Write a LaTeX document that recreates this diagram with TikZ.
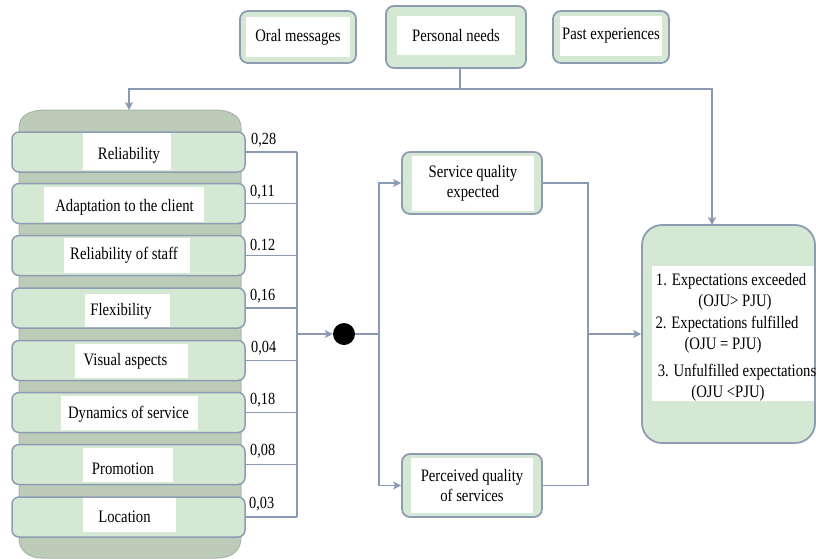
\documentclass[tikz,border=0pt]{standalone}
\usepackage{fontspec}
\setmainfont{Liberation Serif}[FakeStretch=0.84]
\usetikzlibrary{arrows.meta}
\definecolor{lgreen}{HTML}{D5E8D4}
\definecolor{drumc}{HTML}{BCCCB9}
\definecolor{drumedge}{HTML}{A9B8A6}
\definecolor{edgec}{HTML}{8E9CB3}
\definecolor{wirec}{HTML}{8A99B4}
\begin{document}
\begin{tikzpicture}[x=1pt,y=-1pt,
  font=\fontsize{17.5}{20}\selectfont,
  box/.style={draw=edgec, line width=1.8pt, fill=lgreen, rounded corners=8pt, inner sep=0pt},
  bar/.style={draw=edgec, line width=1.5pt, fill=lgreen, rounded corners=7pt, minimum width=233pt, minimum height=40pt, inner sep=0pt},
  wbox/.style={fill=white, inner sep=0pt, align=center},
  txt/.style={inner sep=0pt},
  wire/.style={draw=wirec, line width=1.4pt},
  arr/.style={wire, -{Stealth[length=8pt,width=8pt,inset=2pt]}},
  wlab/.style={anchor=west, inner sep=0pt, font=\fontsize{17}{18}\selectfont}]
\useasboundingbox (0,0) rectangle (816,558);

% drum body
\filldraw[fill=drumc, draw=drumedge, line width=1pt] (19,140) -- (19,128) .. controls (19,115) and (30,110) .. (47,110) -- (213,110) .. controls (230,110) and (241,115) .. (241,128) -- (241,538) .. controls (241,550) and (232,558) .. (218,558) -- (42,558) .. controls (28,558) and (19,550) .. (19,538) -- cycle;
\coordinate (drumtop) at (129,110);

% bars
\node[bar] (b1) at (128.5,152) {};
\node[bar] (b2) at (128.5,203.5) {};
\node[bar] (b3) at (128.5,255.5) {};
\node[bar] (b4) at (128.5,308) {};
\node[bar] (b5) at (128.5,360.5) {};
\node[bar] (b6) at (128.5,412.5) {};
\node[bar] (b7) at (128.5,464.5) {};
\node[bar] (b8) at (128.5,517) {};

% white label fields
\node[wbox, minimum width=88pt, minimum height=37pt] (w1) at (127,151.5) {};
\node[wbox, minimum width=160pt, minimum height=35pt] (w2) at (124,204.5) {};
\node[wbox, minimum width=126pt, minimum height=35pt] (w3) at (127,255.5) {};
\node[wbox, minimum width=85pt, minimum height=33pt] (w4) at (127.5,310.5) {};
\node[wbox, minimum width=113pt, minimum height=34pt] (w5) at (131.5,361) {};
\node[wbox, minimum width=137pt, minimum height=34pt] (w6) at (129.5,413) {};
\node[wbox, minimum width=90pt, minimum height=34pt] (w7) at (128,465) {};
\node[wbox, minimum width=93pt, minimum height=34pt] (w8) at (129.5,515) {};

\node[txt] (t1) at (129,155) {Reliability};
\node[txt] (t2) at (124.5,207) {Adaptation to the client};
\node[txt] (t3) at (124,255) {Reliability of staff};
\node[txt] (t4) at (121,311) {Flexibility};
\node[txt] (t5) at (125.5,361) {Visual aspects};
\node[txt] (t6) at (128.5,414) {Dynamics of service};
\node[txt] (t7) at (123,469) {Promotion};
\node[txt] (t8) at (124.5,517) {Location};

% weights
\node[wlab] (p1) at (251,140) {0,28};
\node[wlab] (p2) at (250,192) {0,11};
\node[wlab] (p3) at (250,245) {0.12};
\node[wlab] (p4) at (250,296) {0,16};
\node[wlab] (p5) at (251,348) {0,04};
\node[wlab] (p6) at (250,400) {0,18};
\node[wlab] (p7) at (250,451) {0,08};
\node[wlab] (p8) at (249,504) {0,03};

% top boxes
\node[box, minimum width=116pt, minimum height=52pt] (om) at (298,37) {};
\node[wbox, minimum width=104pt, minimum height=40pt] (omt) at (298,37) {Oral messages};
\node[box, minimum width=140pt, minimum height=62pt] (pn) at (456,37) {};
\node[wbox, minimum width=118pt, minimum height=39pt] (pnt) at (456,35.5) {Personal needs};
\node[box, minimum width=116pt, minimum height=52pt] (pe) at (611,37) {};
\node[wbox, minimum width=102pt, minimum height=40pt] (pet) at (611,36) {Past experiences};

% middle boxes
\node[box, minimum width=140pt, minimum height=62pt] (sq) at (472,183) {};
\node[wbox, minimum width=122pt, minimum height=55pt] (sqt) at (473,183.5) {Service quality\\expected};
\node[box, minimum width=140pt, minimum height=63pt] (pq) at (472,485.5) {};
\node[wbox, minimum width=122pt, minimum height=55pt] (pqt) at (472,485.5) {Perceived quality\\of services};

% result box
\node[box, rounded corners=20pt, minimum width=173pt, minimum height=218pt] (res) at (728.5,334) {};
\node[wbox, minimum width=162pt, minimum height=135pt] (rest) at (733,333.5) {};
\node[txt] (r1) at (731,281) {1. Expectations exceeded};
\node[txt] (r2) at (735,302) {(OJU> PJU)};
\node[txt] (r3) at (727,324) {2. Expectations fulfilled};
\node[txt] (r4) at (723,345) {(OJU = PJU)};
\node[txt] (r5) at (737,372) {3. Unfulfilled expectations};
\node[txt] (r6) at (728,393) {(OJU <PJU)};

% connectors
\coordinate (t) at (460,89);
\coordinate (rt) at (712,225);
\draw[wire] (pn.south -| t) -- (t);
\draw[arr] (t) -| (drumtop);
\draw[arr] (t) -| (rt);

\coordinate (j) at (297,334);
\foreach \i in {1,...,8} {\draw[wire] (b\i.east) -- (b\i.east -| j);}
\draw[wire] (b1.east -| j) -- (b8.east -| j);

\node[circle, fill=black, inner sep=0pt, minimum size=22pt] (dot) at (344,334) {};
\draw[arr] (j) -- (dot.west);
\coordinate (k) at (379,334);
\draw[wire] (dot.east) -- (k);
\draw[arr] (k) |- (sq.west);
\draw[arr] (k) |- (pq.west);
\coordinate (m) at (588,334);
\draw[wire] (sq.east) -| (m);
\draw[wire] (pq.east) -| (m);
\draw[arr] (m) -- (res.west);
\end{tikzpicture}
\end{document}
